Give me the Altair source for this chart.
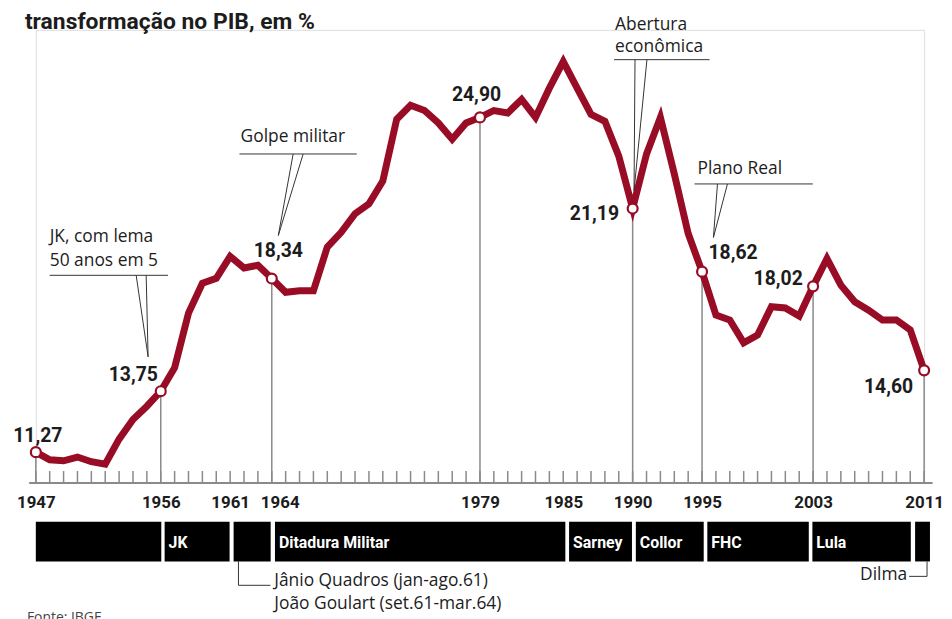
import altair as alt
import pandas as pd

# ---------------- data ----------------
years = list(range(1947, 2012))
values = [
    11.27, 10.96, 10.92, 11.07, 10.88, 10.78, 11.80, 12.60, 13.14, 13.75,  # 1947-1956
    14.71, 16.93, 18.15, 18.35, 19.24, 18.77, 18.88, 18.34, 17.78, 17.84,  # 1957-1966
    17.84, 19.62, 20.22, 20.98, 21.38, 22.31, 24.82, 25.39, 25.18, 24.67,  # 1967-1976
    24.01, 24.67, 24.90, 25.18, 25.08, 25.63, 24.90, 26.09, 27.17, 26.09,  # 1977-1986
    25.02, 24.74, 23.32, 21.19, 23.41, 24.90, 22.60, 20.17, 18.62, 16.85,  # 1987-1996
    16.65, 15.72, 16.04, 17.19, 17.14, 16.81, 18.02, 19.15, 18.07, 17.39,  # 1997-2006
    17.05, 16.65, 16.65, 16.25, 14.60,                                      # 2007-2011
]

mark_years = [1947, 1956, 1964, 1979, 1990, 1995, 2003, 2011]
mark_values = [11.27, 13.75, 18.34, 24.90, 21.19, 18.62, 18.02, 14.60]
mark_labels = ["11,27", "13,75", "18,34", "24,90", "21,19", "18,62", "18,02", "14,60"]
label_x = [1947.14, 1955.80, 1964.47, 1978.75, 1989.02, 1995.46, 2002.26, 2010.21]
label_y = [11.92, 14.39, 19.44, 25.80, 20.98, 19.36, 18.31, 13.94]
label_align = ["center", "right", "center", "center", "right", "left", "right", "right"]

axis_years = [1947, 1956, 1961, 1964, 1979, 1985, 1990, 1995, 2003, 2011]

period_names = ["", "JK", "", "Ditadura Militar", "Sarney", "Collor", "FHC", "Lula", ""]
period_start = [1947.0, 1956.28, 1961.25, 1964.23, 1985.42, 1990.23, 1995.38, 2002.95, 2010.35]
period_end = [1956.04, 1960.96, 1963.92, 1985.15, 1989.95, 1995.12, 2002.69, 2010.04, 2011.42]

ann_texts = ["JK, com lema", "50 anos em 5", "Golpe militar", "Abertura", "econômica", "Plano Real"]
ann_x = [1948.0, 1948.0, 1961.75, 1988.73, 1988.73, 1994.67]
ann_y = [20.01, 19.04, 24.09, 28.66, 27.77, 22.80]

under_x = [1948.0, 1961.67, 1988.66, 1994.46]
under_x2 = [1956.52, 1970.12, 1995.54, 2002.98]
under_y = [18.47, 23.41, 27.25, 22.19]

lead_x = [1954.23, 1954.95, 1965.54, 1966.26, 1990.17, 1991.03, 1996.11, 1996.83]
lead_y = [18.47, 18.47, 23.41, 23.41, 27.25, 27.25, 22.19, 22.19]
lead_x2 = [1955.09, 1955.09, 1964.47, 1964.47, 1990.10, 1990.10, 1995.82, 1995.82]
lead_y2 = [15.15, 15.15, 20.09, 20.09, 21.91, 21.91, 20.01, 20.01]

title_lines = ["Participação da indústria de", "transformação no PIB, em %"]
jango_texts = ["Jânio Quadros (jan-ago.61)", "João Goulart (set.61-mar.64)"]
jango_x = [1961.6, 1963.9, 1964.18]
dilma_x = [2009.78, 2009.92, 2011.21]
source_text = "Fonte: IBGE"

# ---------------- style ----------------
RED = "#980c25"
GRAY = "#8a8a8a"
INK = "#1c1c1c"
FONT = "Roboto"
FONT2 = "Open Sans"
W, H = 894, 456

xs = alt.Scale(domain=[1947, 2011], nice=False, zero=False)
ys = alt.Scale(domain=[10.016, 28.463], nice=False, zero=False)

df_line = pd.DataFrame({"year": years, "value": values})
df_marks = pd.DataFrame({"year": mark_years, "value": mark_values})
df_labels = pd.DataFrame({"lx": label_x, "ly": label_y, "label": mark_labels, "align": label_align})
df_periods = pd.DataFrame({"s": period_start, "e": period_end, "name": period_names})
df_ann = pd.DataFrame({"x": ann_x, "y": ann_y, "t": ann_texts})
df_under = pd.DataFrame({"x": under_x, "x2": under_x2, "y": under_y})
df_lead = pd.DataFrame({"x": lead_x, "y": lead_y, "x2": lead_x2, "y2": lead_y2})
df_axis = pd.DataFrame({"year": axis_years})

# axis with labels only (ticks drawn separately, pointing up)
axis_layer = alt.Chart(df_axis).mark_rule(opacity=0).encode(
    x=alt.X("year:Q", scale=xs, title=None,
            axis=alt.Axis(values=axis_years, format="d", ticks=False, domain=False, grid=False,
                          labelFont=FONT, labelFontSize=17, labelFontWeight="bold",
                          labelColor=INK, labelPadding=12, labelFlush=False, labelOverlap=False,
                          labelOffset=alt.condition("datum.value == 1964", alt.value(8), alt.value(0)))),
    y=alt.value(H),
)

ticks = alt.Chart(df_line).mark_rule(color=GRAY, strokeWidth=1.5).encode(
    x=alt.X("year:Q", scale=xs), y=alt.value(H - 12), y2=alt.value(H)
)
baseline = alt.Chart(df_axis).mark_rule(color=GRAY, strokeWidth=2).encode(
    x=alt.value(-6), x2=alt.value(W + 8), y=alt.value(H)
)
drops = alt.Chart(df_marks).mark_rule(color=GRAY, strokeWidth=1.5).encode(
    x=alt.X("year:Q", scale=xs), y=alt.Y("value:Q", scale=ys, axis=None), y2=alt.value(H)
)
line = alt.Chart(df_line).mark_line(color=RED, strokeWidth=7).encode(
    x=alt.X("year:Q", scale=xs), y=alt.Y("value:Q", scale=ys, axis=None)
)
points = alt.Chart(df_marks).mark_circle(color="white", stroke=RED, strokeWidth=2.2,
                                         size=100, opacity=1).encode(
    x=alt.X("year:Q", scale=xs), y=alt.Y("value:Q", scale=ys)
)

value_labels = []
for al in ["center", "right", "left"]:
    value_labels.append(
        alt.Chart(df_labels).transform_filter(alt.datum.align == al)
        .mark_text(align=al, baseline="middle", font=FONT, fontSize=19.5,
                   fontWeight="bold", color=INK)
        .encode(x=alt.X("lx:Q", scale=xs), y=alt.Y("ly:Q", scale=ys), text="label:N")
    )

ann_text = alt.Chart(df_ann).mark_text(align="left", baseline="middle", font=FONT2,
                                       fontSize=17.5, color=INK).encode(
    x=alt.X("x:Q", scale=xs), y=alt.Y("y:Q", scale=ys), text="t:N"
)
ann_under = alt.Chart(df_under).mark_rule(color="#333333", strokeWidth=1).encode(
    x=alt.X("x:Q", scale=xs), x2="x2:Q", y=alt.Y("y:Q", scale=ys)
)
ann_lead = alt.Chart(df_lead).mark_rule(color="#333333", strokeWidth=1).encode(
    x=alt.X("x:Q", scale=xs), x2="x2:Q", y=alt.Y("y:Q", scale=ys), y2="y2:Q"
)

# period band below the axis
BAND_TOP, BAND_BOT = 495, 535
bars = alt.Chart(df_periods).mark_rect(color="#000000").encode(
    x=alt.X("s:Q", scale=xs), x2="e:Q", y=alt.value(BAND_TOP), y2=alt.value(BAND_BOT)
)
bar_text = alt.Chart(df_periods).mark_text(align="left", baseline="middle", dx=4, dy=1, font=FONT,
                                            fontSize=16, fontWeight="bold", color="white").encode(
    x=alt.X("s:Q", scale=xs), y=alt.value((BAND_TOP + BAND_BOT) / 2), text="name:N"
)

df_jv = pd.DataFrame({"x": [jango_x[0]]})
jango_v = alt.Chart(df_jv).mark_rule(color="#333333", strokeWidth=1).encode(
    x=alt.X("x:Q", scale=xs), y=alt.value(BAND_BOT), y2=alt.value(559)
)
df_jh = pd.DataFrame({"x": [jango_x[0]], "x2": [jango_x[1]]})
jango_h = alt.Chart(df_jh).mark_rule(color="#333333", strokeWidth=1).encode(
    x=alt.X("x:Q", scale=xs), x2="x2:Q", y=alt.value(559)
)
jango_t1 = alt.Chart(pd.DataFrame({"x": [jango_x[2]], "t": [jango_texts[0]]})).mark_text(
    align="left", baseline="middle", font=FONT2, fontSize=17.5, color=INK).encode(
    x=alt.X("x:Q", scale=xs), y=alt.value(555), text="t:N")
jango_t2 = alt.Chart(pd.DataFrame({"x": [jango_x[2]], "t": [jango_texts[1]]})).mark_text(
    align="left", baseline="middle", font=FONT2, fontSize=17.5, color=INK).encode(
    x=alt.X("x:Q", scale=xs), y=alt.value(578), text="t:N")

dilma_h = alt.Chart(pd.DataFrame({"x": [dilma_x[1]], "x2": [dilma_x[2]]})).mark_rule(
    color="#333333", strokeWidth=1).encode(
    x=alt.X("x:Q", scale=xs), x2="x2:Q", y=alt.value(550))
dilma_v = alt.Chart(pd.DataFrame({"x": [dilma_x[2]]})).mark_rule(
    color="#333333", strokeWidth=1).encode(
    x=alt.X("x:Q", scale=xs), y=alt.value(BAND_BOT), y2=alt.value(550))
dilma_t = alt.Chart(pd.DataFrame({"x": [dilma_x[0]], "t": ["Dilma"]})).mark_text(
    align="right", baseline="middle", font=FONT2, fontSize=17.5, color=INK).encode(
    x=alt.X("x:Q", scale=xs), y=alt.value(549), text="t:N")

source = alt.Chart(pd.DataFrame({"t": [source_text]})).mark_text(
    align="left", baseline="alphabetic", font=FONT2, fontSize=14, color="#444444").encode(
    x=alt.value(-9), y=alt.value(596), text="t:N")

title1 = alt.Chart(pd.DataFrame({"t": [title_lines[0]]})).mark_text(
    align="left", baseline="alphabetic", font=FONT, fontSize=23, fontWeight="bold",
    color=INK).encode(x=alt.value(-11), y=alt.value(-29), text="t:N")
title2 = alt.Chart(pd.DataFrame({"t": [title_lines[1]]})).mark_text(
    align="left", baseline="alphabetic", font=FONT, fontSize=23, fontWeight="bold",
    color=INK).encode(x=alt.value(-11), y=alt.value(-1), text="t:N")

chart = alt.layer(
    axis_layer, ticks, drops, baseline, line, points, *value_labels,
    ann_under, ann_lead, ann_text,
    bars, bar_text, jango_v, jango_h, jango_t1, jango_t2, dilma_h, dilma_v, dilma_t,
    source, title1, title2,
).properties(
    width=W, height=H,
    autosize=alt.AutoSizeParams(type="none"),
    padding={"left": 28, "top": 20, "right": 20, "bottom": 149},
).configure_view(stroke=None).configure(background="white")

chart.save("out.html", embed_options={"renderer": "svg", "actions": False})
